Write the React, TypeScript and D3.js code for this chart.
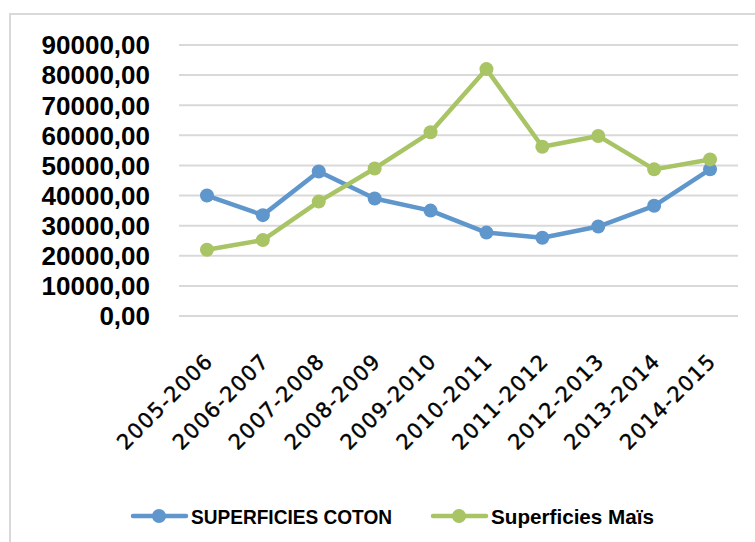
import React, { useEffect, useRef } from "react";
import * as d3 from "d3";

const categories = [
  "2005-2006",
  "2006-2007",
  "2007-2008",
  "2008-2009",
  "2009-2010",
  "2010-2011",
  "2011-2012",
  "2012-2013",
  "2013-2014",
  "2014-2015"
];
const coton = [40000, 33500, 48000, 39000, 35000, 27700, 26000, 29700, 36600, 48700];
const mais = [22000, 25200, 38000, 49000, 61000, 82000, 56200, 59800, 48700, 52000];
const yTicks = [0, 10000, 20000, 30000, 40000, 50000, 60000, 70000, 80000, 90000];

const series = [
  { name: "SUPERFICIES COTON", values: coton, color: "#5F97CD", textW: 201 },
  { name: "Superficies Maïs", values: mais, color: "#A8C465", textW: 163 }
];

function App() {
  const ref = useRef<SVGSVGElement>(null);

  useEffect(() => {
    const svg = d3.select(ref.current);
    svg.selectAll("*").remove();

    const width = 755,
      height = 542;
    const left = 179,
      right = 738,
      top = 45,
      bottom = 316;

    // frame
    svg
      .append("rect")
      .attr("x", 10)
      .attr("y", 14)
      .attr("width", width + 20)
      .attr("height", height + 20)
      .attr("fill", "#fff")
      .attr("stroke", "#d9d9d9")
      .attr("stroke-width", 2);

    const x = d3.scaleBand().domain(categories).range([left, right]);
    const y = d3.scaleLinear().domain([0, 90000]).range([bottom, top]);
    const cx = (d: string) => (x(d) as number) + x.bandwidth() / 2;

    // gridlines
    svg
      .append("g")
      .selectAll("line")
      .data(yTicks)
      .enter()
      .append("line")
      .attr("x1", left)
      .attr("x2", right)
      .attr("y1", d => y(d))
      .attr("y2", d => y(d))
      .attr("stroke", "#d9d9d9")
      .attr("stroke-width", 2);

    // y labels
    const fmt = (v: number) => d3.format(".2f")(v).replace(".", ",");
    svg
      .append("g")
      .selectAll("text")
      .data(yTicks)
      .enter()
      .append("text")
      .attr("x", 150)
      .attr("y", d => y(d))
      .attr("dy", "0.36em")
      .attr("text-anchor", "end")
      .attr("font-family", "Liberation Sans, Arial, sans-serif")
      .attr("font-weight", "bold")
      .attr("font-size", 26)
      .attr("fill", "#000")
      .text(d => fmt(d));

    // x labels
    svg
      .append("g")
      .selectAll("text")
      .data(categories)
      .enter()
      .append("text")
      .attr("transform", d => "translate(" + (cx(d) + 2) + "," + (bottom + 41) + ") rotate(-45)")
      .attr("text-anchor", "end")
      .attr("dy", "0.36em")
      .attr("font-family", "DejaVu Sans, sans-serif")
      .attr("font-size", 21)
      .attr("letter-spacing", 1.2)
      .attr("fill", "#000")
      .attr("stroke", "#000")
      .attr("stroke-width", 0.4)
      .text(d => d);

    // lines and markers
    series.forEach(s => {
      const line = d3
        .line<number>()
        .x((d, i) => cx(categories[i]))
        .y(d => y(d));
      svg
        .append("path")
        .datum(s.values)
        .attr("d", line)
        .attr("fill", "none")
        .attr("stroke", s.color)
        .attr("stroke-width", 4.5)
        .attr("stroke-linejoin", "round");
      svg
        .append("g")
        .selectAll("circle")
        .data(s.values)
        .enter()
        .append("circle")
        .attr("cx", (d, i) => cx(categories[i]))
        .attr("cy", d => y(d))
        .attr("r", 7)
        .attr("fill", s.color);
    });

    // legend
    const legendX = [133, 433];
    const legend = svg
      .append("g")
      .selectAll("g")
      .data(series)
      .enter()
      .append("g")
      .attr("transform", (d, i) => "translate(" + legendX[i] + ",516)");
    legend
      .append("line")
      .attr("x1", 0)
      .attr("x2", 53)
      .attr("stroke", d => d.color)
      .attr("stroke-width", 4.5)
      .attr("stroke-linecap", "round");
    legend
      .append("circle")
      .attr("cx", 26)
      .attr("r", 7)
      .attr("fill", d => d.color);
    legend
      .append("text")
      .attr("x", 58)
      .attr("dy", "0.36em")
      .attr("font-family", "Liberation Sans, Arial, sans-serif")
      .attr("font-weight", "bold")
      .attr("font-size", 21)
      .attr("textLength", d => d.textW)
      .attr("lengthAdjust", "spacingAndGlyphs")
      .attr("fill", "#000")
      .text(d => d.name);
  }, []);

  return (
    <svg
      ref={ref}
      width={755}
      height={542}
      style={{ position: "absolute", left: 0, top: 0 }}
    />
  );
}

export default App;
